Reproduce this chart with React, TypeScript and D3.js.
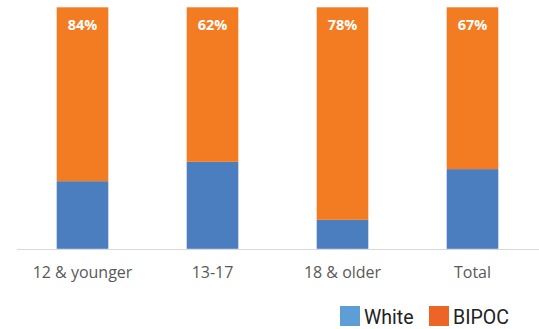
import React from "react";
import * as d3 from "d3";

const categories = ["12 & younger", "13-17", "18 & older", "Total"];
const whiteValues = [28, 36, 12, 33];
const bipocValues = [72, 64, 88, 67];
const bipocLabels = ["84%", "62%", "78%", "67%"];
const seriesNames = ["White", "BIPOC"];

const W = 539;
const H = 329;

export default function App() {
  const x = d3.scaleBand<string>().domain(categories).range([17.5, 537.5]).paddingInner(0.603).paddingOuter(0.3015);
  const y = d3.scaleLinear().domain([0, 100]).range([248.8, 7.3]);
  const rows = categories.map((c, i) => ({ cat: c, White: whiteValues[i], BIPOC: bipocValues[i] }));
  const stack = d3.stack<any>().keys(seriesNames)(rows);
  const colors: Record<string, string> = { White: "#4A7EBF", BIPOC: "#F37C23" };
  const legendColors: Record<string, string> = { White: "#5E9ED6", BIPOC: "#EC6527" };

  return (
    <svg width={W} height={H} style={{ position: "absolute", left: 0, top: 0, background: "#fff" }}>
      {stack.map((s) => (
        <g key={s.key} fill={colors[s.key]}>
          {s.map((d, i) => (
            <rect
              key={i}
              x={x(categories[i])}
              width={x.bandwidth()}
              y={y(d[1])}
              height={y(d[0]) - y(d[1])}
            />
          ))}
        </g>
      ))}
      <line x1={17} x2={539} y1={249.5} y2={249.5} stroke="#D9D9D9" strokeWidth={1} />
      {categories.map((c, i) => (
        <text
          key={c}
          x={x(c)! + x.bandwidth() / 2}
          y={y(100) + 22.7}
          textAnchor="middle"
          fill="#FFFFFF"
          fontFamily="Open Sans, sans-serif"
          fontWeight="bold"
          fontSize={14.5}
        >
          {bipocLabels[i]}
        </text>
      ))}
      {categories.map((c) => (
        <text
          key={c}
          x={x(c)! + x.bandwidth() / 2}
          y={278}
          textAnchor="middle"
          fill="#595959"
          fontFamily="Open Sans, sans-serif"
          fontSize={16}
        >
          {c}
        </text>
      ))}
      {seriesNames.map((n, i) => {
        const lx = i === 0 ? 340 : 429;
        return (
          <g key={n}>
            <rect x={lx} y={306} width={20} height={20} fill={legendColors[n]} />
            <text x={lx + 24} y={324} fill="#222" fontFamily="Roboto, sans-serif" fontSize={19.5}>
              {n}
            </text>
          </g>
        );
      })}
    </svg>
  );
}
